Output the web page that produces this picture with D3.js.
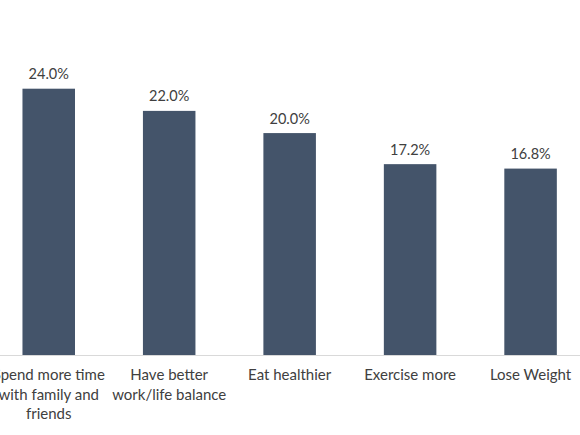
<!DOCTYPE html>
<html><head><meta charset="utf-8">
<script src="https://cdn.jsdelivr.net/npm/d3@7"></script>
<style>html,body{margin:0;padding:0;background:#fff;overflow:hidden}</style>
</head><body>
<svg id="c" width="580" height="435"></svg>
<script>
const categories = ["Spend more time with family and friends","Have better work/life balance","Eat healthier","Exercise more","Lose Weight"];
const categoryLines = [["Spend more time","with family and","friends"],["Have better","work/life balance"],["Eat healthier"],["Exercise more"],["Lose Weight"]];
const values = [24.0, 22.0, 20.0, 17.2, 16.8];

const svg = d3.select("#c");
const font = "Lato, 'Open Sans', sans-serif";
const x = d3.scaleBand().domain(categories).range([-11.5, 590.8]).paddingInner(0.564).paddingOuter(0.282);
const y = d3.scaleLinear().domain([0, 24]).range([355, 88.7]);

svg.append("line").attr("x1",0).attr("x2",580).attr("y1",y(0)+0.5).attr("y2",y(0)+0.5)
  .attr("stroke","#d9d9d9").attr("stroke-width",1);

svg.selectAll("rect.bar").data(values).join("rect").attr("class","bar")
  .attr("x",(d,i)=>x(categories[i])).attr("width",x.bandwidth())
  .attr("y",d=>y(d)).attr("height",d=>y(0)-y(d)).attr("fill","#44546a");

svg.selectAll("text.val").data(values).join("text").attr("class","val")
  .attr("x",(d,i)=>x(categories[i])+x.bandwidth()/2).attr("y",d=>y(d)-9.5)
  .attr("text-anchor","middle").attr("font-family",font).attr("font-size",14.5)
  .attr("fill","#404040").text(d=>d.toFixed(1)+"%");

const g = svg.selectAll("text.cat").data(categoryLines).join("text").attr("class","cat")
  .attr("text-anchor","middle").attr("font-family",font).attr("font-size",15).attr("fill","#404040");
g.each(function(lines,i){
  const cx = x(categories[i])+x.bandwidth()/2;
  d3.select(this).selectAll("tspan").data(lines).join("tspan")
    .attr("x",cx).attr("y",(l,j)=>380+j*19.5).text(l=>l);
});
</script>
</body></html>
